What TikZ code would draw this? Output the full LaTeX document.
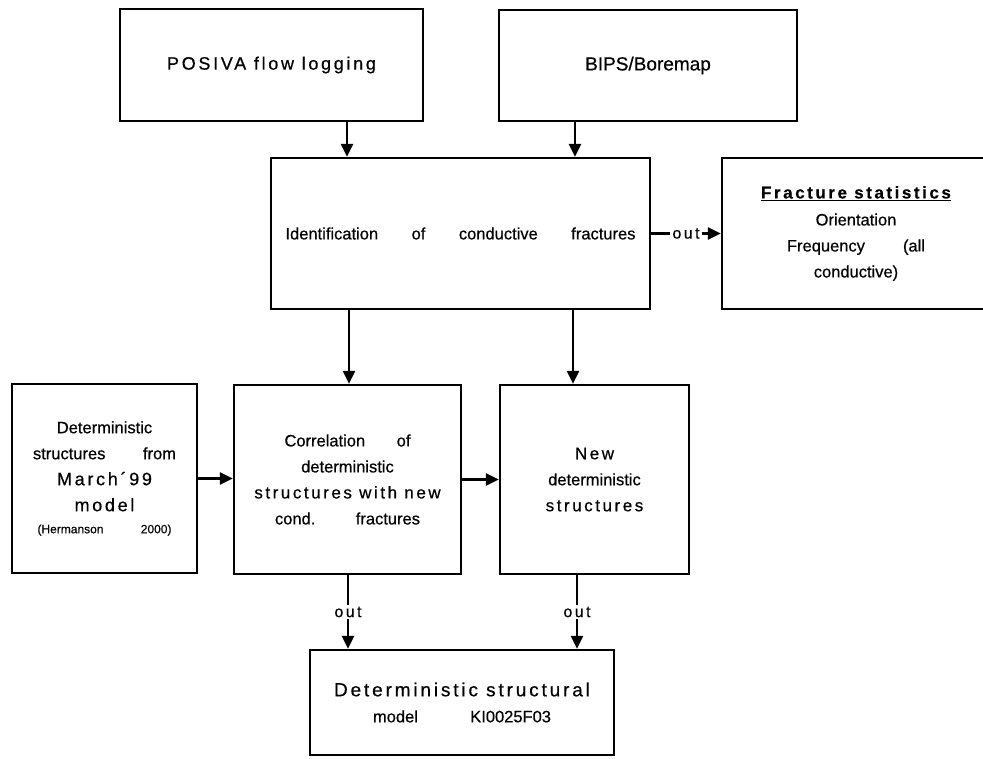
\documentclass[tikz,border=0pt]{standalone}
\usepackage{fontspec}
\setmainfont{Liberation Sans}[FakeBold=0.5]
\newfontfamily\spaced[LetterSpace=15,FakeBold=0.5]{Liberation Sans}
\usetikzlibrary{arrows.meta}

\tikzset{
  block/.style={draw, line width=2.3pt, inner sep=2pt, align=center,
    font=\fontsize{16.5}{26}\selectfont},
  flow/.style={line width=2.3pt, -{Triangle[length=13pt,width=12pt]}},
  outlabel/.style={fill=white, inner sep=2pt, font=\spaced\fontsize{16}{18}\selectfont},
}

\begin{document}
\begin{tikzpicture}[x=1pt,y=-1pt]
\useasboundingbox (0,0) rectangle (983,759);

% inputs
\node[block, minimum width=303pt, minimum height=112pt] (posiva) at (271.5,65)
  {\spaced\fontsize{18}{22}\selectfont POSIVA flow logging};
\node[block, minimum width=298pt, minimum height=111pt] (bips) at (648,65.5)
  {\fontsize{19}{22}\selectfont BIPS/Boremap};

% identification step and its side output
\node[block, minimum width=379pt, minimum height=151pt] (ident) at (460.5,233.5)
  {\makebox[350pt][s]{Identification of conductive fractures}};
\node[block, minimum width=268pt, minimum height=151pt] (fracstat) at (856,233.5)
  {{\spaced\bfseries\fontsize{17}{22}\selectfont\underline{Fracture statistics}}\\[1pt]
   Orientation\\
   \makebox[138pt][s]{Frequency (all}\\
   conductive)};

% middle row
\node[block, minimum width=185pt, minimum height=189pt] (detmarch) at (104.5,478.5)
  {Deterministic\\
   \makebox[143pt][s]{structures from}\\
   {\spaced\fontsize{18}{26}\selectfont March´99}\\
   {\spaced\fontsize{18}{24}\selectfont model}\\[-4pt]
   {\fontsize{12}{20}\selectfont\makebox[134pt][s]{(Hermanson 2000)}}};
\node[block, minimum width=227pt, minimum height=189pt] (corr) at (347.5,479.5)
  {\makebox[126pt][s]{Correlation of}\\
   deterministic\\
   {\spaced\fontsize{17}{26}\selectfont structures with new}\\
   \makebox[145pt][s]{cond. fractures}};
\node[block, minimum width=189pt, minimum height=189pt] (newdet) at (594.5,479.5)
  {{\spaced\fontsize{17}{26}\selectfont New}\\
   deterministic\\
   {\spaced\fontsize{17}{24}\selectfont structures}};

% result
\node[block, minimum width=304pt, minimum height=105pt] (model) at (462,702.5)
  {{\spaced\fontsize{19}{26}\selectfont Deterministic structural}\\
   \makebox[178pt][s]{model KI0025F03}};

% connectors
\coordinate (c1) at (347,0);
\coordinate (c2) at (575,0);
\coordinate (c3) at (349,0);
\coordinate (c4) at (573,0);
\coordinate (c5) at (348,0);
\coordinate (c6) at (577,0);

\draw[flow] (posiva.south -| c1) -- (ident.north -| c1);
\draw[flow] (bips.south -| c2) -- (ident.north -| c2);
\draw[flow] (ident.east) -- node[outlabel] {out} (fracstat.west);
\draw[flow] (ident.south -| c3) -- (corr.north -| c3);
\draw[flow] (ident.south -| c4) -- (newdet.north -| c4);
\draw[flow] (detmarch.east) -- (corr.west |- detmarch.east);
\draw[flow] (corr.east) -- (newdet.west |- corr.east);
\draw[flow] (corr.south -| c5) -- node[outlabel] {out} (model.north -| c5);
\draw[flow] (newdet.south -| c6) -- node[outlabel] {out} (model.north -| c6);
\end{tikzpicture}
\end{document}
